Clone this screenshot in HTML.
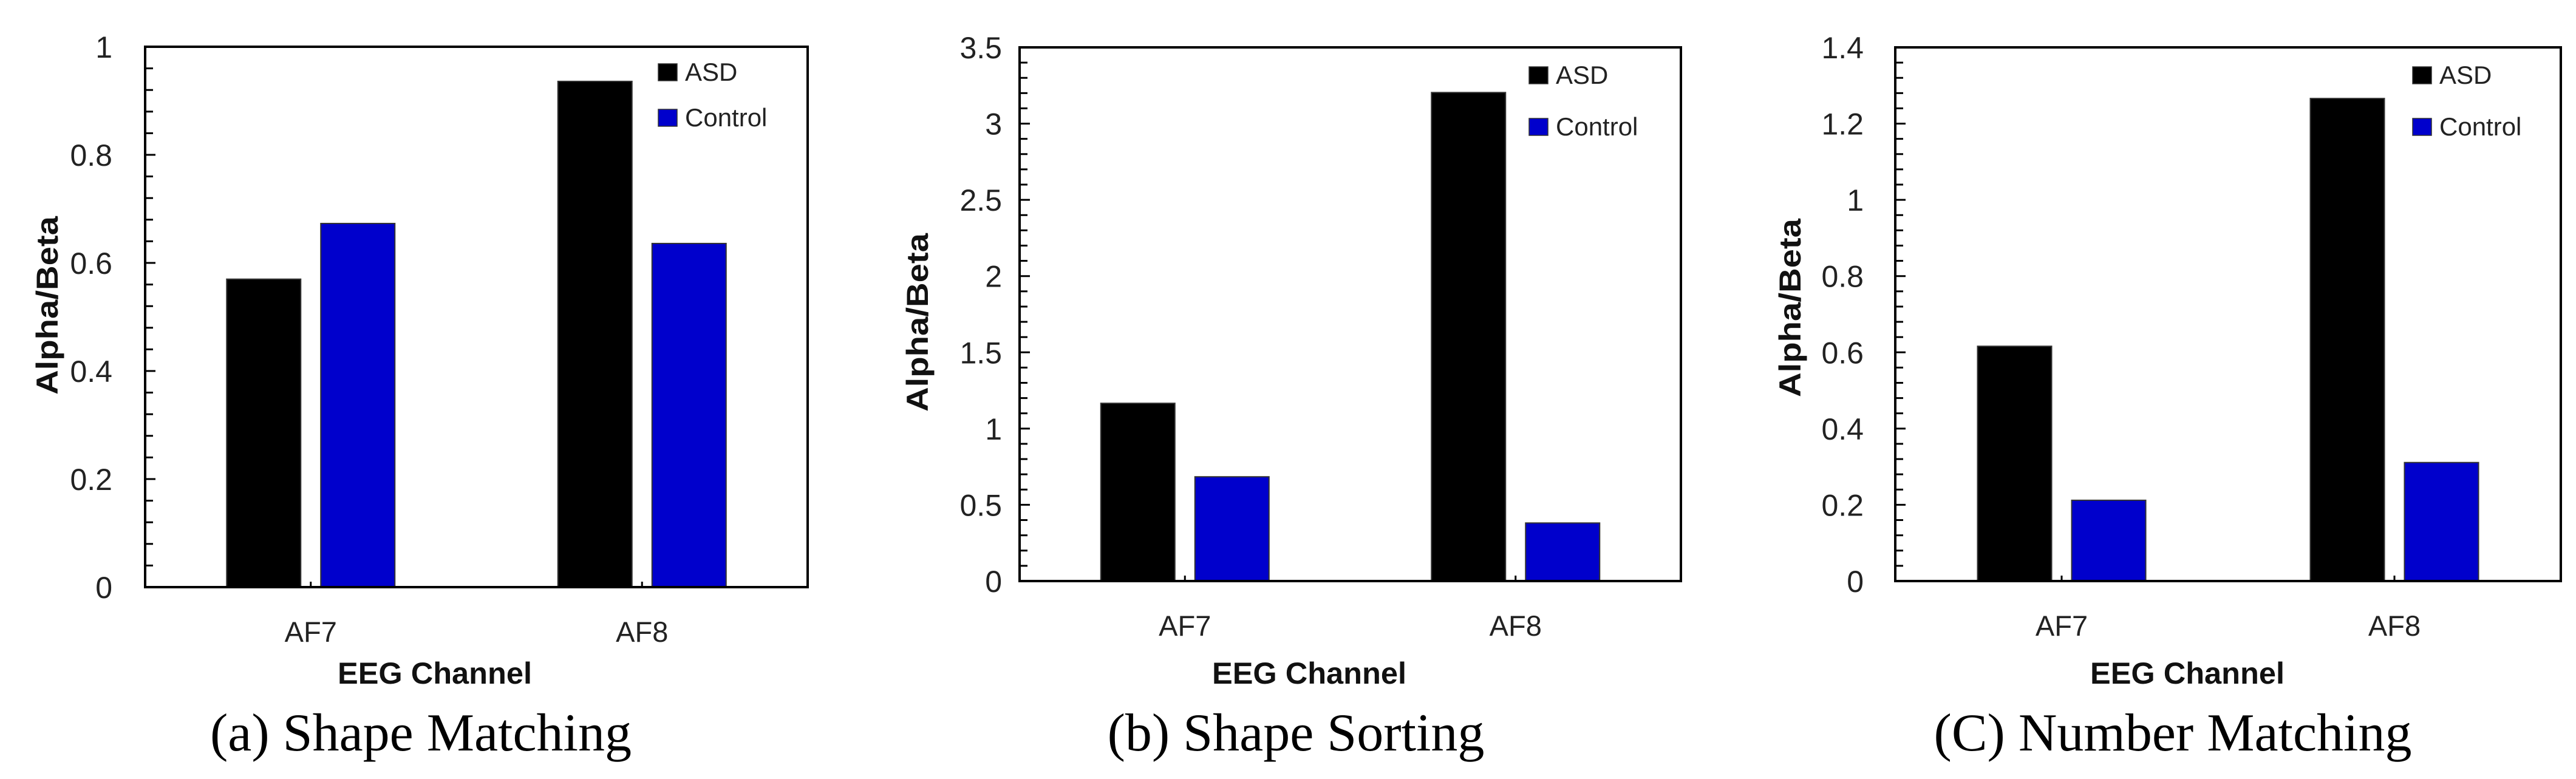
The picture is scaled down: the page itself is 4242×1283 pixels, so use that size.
<!DOCTYPE html>
<html><head><meta charset="utf-8"><style>
html,body{margin:0;padding:0;background:#fff;}
svg{display:block;}
</style></head><body>
<svg id="fig" width="4242" height="1283" viewBox="0 0 4242 1283" xmlns="http://www.w3.org/2000/svg"></svg>
<script>
const categories = ["AF7", "AF8"];
const seriesNames = ["ASD", "Control"];
const seriesColors = ["#000000", "#0000cc"];
const valuesA_ASD = [0.57, 0.936];
const valuesA_Control = [0.673, 0.636];
const valuesB_ASD = [1.166, 3.204];
const valuesB_Control = [0.684, 0.381];
const valuesC_ASD = [0.616, 1.266];
const valuesC_Control = [0.212, 0.311];
const ticksA = [0, 0.2, 0.4, 0.6, 0.8, 1];
const tickLabelsA = ["0", "0.2", "0.4", "0.6", "0.8", "1"];
const ticksB = [0, 0.5, 1, 1.5, 2, 2.5, 3, 3.5];
const tickLabelsB = ["0", "0.5", "1", "1.5", "2", "2.5", "3", "3.5"];
const ticksC = [0, 0.2, 0.4, 0.6, 0.8, 1, 1.2, 1.4];
const tickLabelsC = ["0", "0.2", "0.4", "0.6", "0.8", "1", "1.2", "1.4"];
const captions = ["(a) Shape Matching", "(b) Shape Sorting", "(C) Number Matching"];

const NS = "http://www.w3.org/2000/svg";
const svg = document.getElementById("fig");
function mk(tag, attrs, parent) {
  const e = document.createElementNS(NS, tag);
  for (const k in attrs) e.setAttribute(k, attrs[k]);
  (parent || svg).appendChild(e);
  return e;
}

const panels = [
  {id:"a", L:239, R:1330, T:77, B:967, max:1, minor:0.04, ticks:ticksA, labels:tickLabelsA, s:[valuesA_ASD, valuesA_Control], labR:185, titleX:77, titleY:503, eegX:716, capX:693, legSq:1084},
  {id:"b", L:1679, R:2768, T:78, B:957, max:3.5, minor:0.1, ticks:ticksB, labels:tickLabelsB, s:[valuesB_ASD, valuesB_Control], labR:1650, titleX:1510, titleY:531, eegX:2156, capX:2134, legSq:2518},
  {id:"c", L:3121, R:4217, T:78, B:957, max:1.4, minor:0.04, ticks:ticksC, labels:tickLabelsC, s:[valuesC_ASD, valuesC_Control], labR:3069, titleX:2947, titleY:507, eegX:3602, capX:3578, legSq:3973}
];

panels.forEach((p, pi) => {
  const g = mk("g", {});
  
  
  const y = v => p.B - (v / p.max) * (p.B - p.T);
  const catW = (p.R - p.L) / categories.length;
  const cx = i => p.L + catW * (i + 0.5);
  const barW = 122, gap = 33;

  categories.forEach((c, i) => {
    p.s.forEach((vals, si) => {
      const x0 = cx(i) - (barW * 2 + gap) / 2 + si * (barW + gap);
      const r = mk("rect", {x:x0, y:y(vals[i]), width:barW, height:p.B - y(vals[i]), fill:seriesColors[si], stroke:"#333", "stroke-width":2}, g);
      
      
    });
  });

  const nMinor = Math.round(p.max / p.minor);
  for (let k = 1; k < nMinor; k++) {
    const v = k * p.minor;
    const isMajor = p.ticks.some(t => Math.abs(t - v) < 1e-6);
    const t = mk("line", {x1:p.L, x2:p.L + (isMajor ? 17 : 13), y1:y(v), y2:y(v), stroke:"#000", "stroke-width":3}, g);
    
    
  }
  categories.forEach((c, i) => {
    const t = mk("line", {x1:cx(i), x2:cx(i), y1:p.B, y2:p.B - 9, stroke:"#000", "stroke-width":3}, g);
    
    
    const tl = mk("text", {x:cx(i), y:p.B + 90, "text-anchor":"middle", "font-family":"Liberation Sans, sans-serif", "font-size":47, fill:"#222"}, g);
    tl.textContent = c;
    
    
  });
  p.ticks.forEach((v, k) => {
    const tl = mk("text", {x:p.labR, y:y(v) + 18, "text-anchor":"end", "font-family":"Liberation Sans, sans-serif", "font-size":50, fill:"#222"}, g);
    tl.textContent = p.labels[k];
    
    
  });
  const fr = mk("rect", {x:p.L, y:p.T, width:p.R - p.L, height:p.B - p.T, fill:"none", stroke:"#000", "stroke-width":4}, g);
  
  

  const yt = mk("text", {x:0, y:0, transform:"translate(" + (p.titleX + 18) + "," + p.titleY + ") rotate(-90)", "text-anchor":"middle", "font-family":"Liberation Sans, sans-serif", "font-weight":"bold", "font-size":50, textLength:294, lengthAdjust:"spacingAndGlyphs", fill:"#111"}, g);
  yt.textContent = "Alpha/Beta";
  
  
  const xt = mk("text", {x:p.eegX, y:1126, "text-anchor":"middle", "font-family":"Liberation Sans, sans-serif", "font-weight":"bold", "font-size":50, textLength:320, lengthAdjust:"spacingAndGlyphs", fill:"#111"}, g);
  xt.textContent = "EEG Channel";
  
  
  const cp = mk("text", {x:p.capX, y:1236, "text-anchor":"middle", "font-family":"Liberation Serif, serif", "font-size":88, fill:"#000"}, g);
  cp.textContent = captions[pi];
  
  

  const legY = pi === 0 ? [105, 180] : [110, 195];
  seriesNames.forEach((n, si) => {
    const sq = mk("rect", {x:p.legSq, y:legY[si], width:31, height:28, fill:seriesColors[si], stroke:"#333", "stroke-width":1.5}, g);
    
    
    const lt = mk("text", {x:p.legSq + 44, y:legY[si] + 28, "font-family":"Liberation Sans, sans-serif", "font-size":42, fill:"#222"}, g);
    lt.textContent = n;
    
    
  });
});
</script>
</body></html>
